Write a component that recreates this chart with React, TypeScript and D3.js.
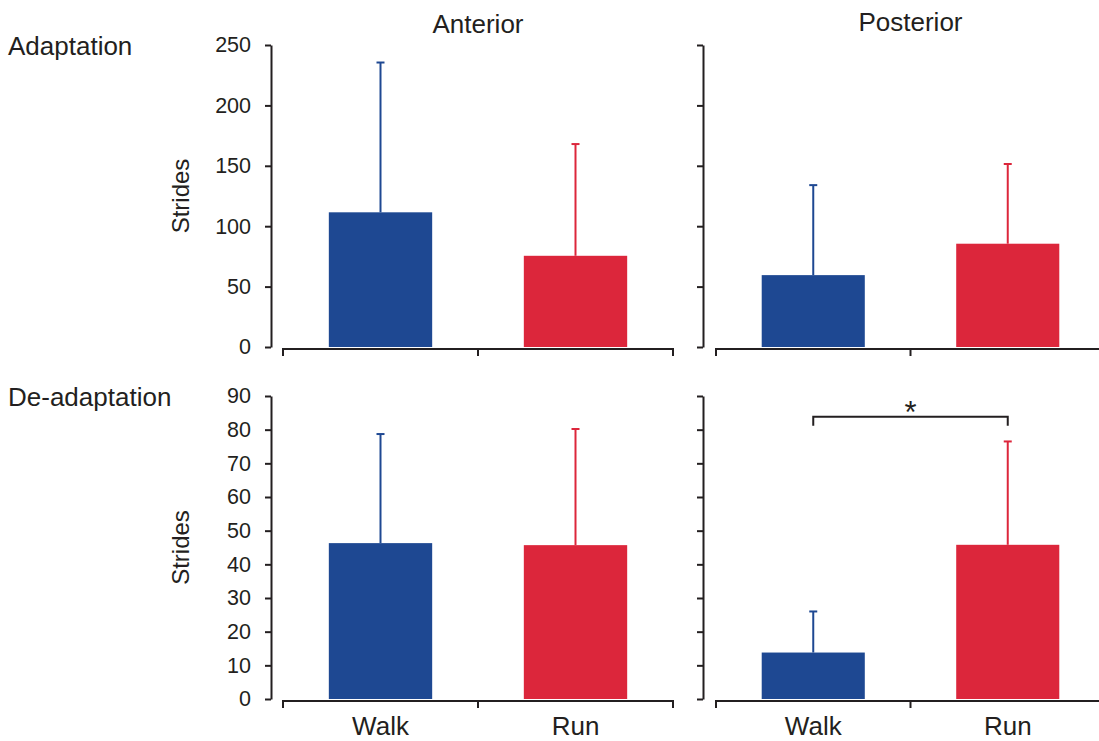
import React, { useEffect, useRef } from "react";
import * as d3 from "d3";

// conditions on the x axis
const categories = ["Walk", "Run"];

// mean strides (bar height) and mean + SD (error bar top)
const adaptAnteriorMean = [111.5, 75.5];
const adaptAnteriorErr = [235.5, 168];
const adaptPosteriorMean = [59.5, 85.5];
const adaptPosteriorErr = [134, 151.5];

const deadaptAnteriorMean = [46.3, 45.7];
const deadaptAnteriorErr = [78.7, 80.2];
const deadaptPosteriorMean = [13.8, 45.8];
const deadaptPosteriorErr = [26, 76.5];

// y axis ticks
const adaptTicks = [0, 50, 100, 150, 200, 250];
const deadaptTicks = [0, 10, 20, 30, 40, 50, 60, 70, 80, 90];

const columnTitles = ["Anterior", "Posterior"];
const rowTitles = ["Adaptation", "De-adaptation"];

// significance bracket (de-adaptation, posterior, walk vs run)
const sigLevel = 83.8;
const sigLabel = "*";

const BLUE = "#1e4892";
const RED = "#dc263b";
const INK = "#231f20";
const FONT = "'Liberation Sans', Arial, Helvetica, sans-serif";

export default function App() {
  const ref = useRef<SVGSVGElement>(null);

  useEffect(() => {
    const svg = d3.select(ref.current);
    svg.selectAll("*").remove();

    const cols = [
      { axisX: 271, x0: 283, x1: 673, labels: true },
      { axisX: 703, x0: 716, x1: 1105, labels: false },
    ];
    const rows = [
      { top: 45, bottom: 347, max: 250, ticks: adaptTicks },
      { top: 396, bottom: 699, max: 90, ticks: deadaptTicks },
    ];
    const panels = [
      { r: 0, c: 0, mean: adaptAnteriorMean, err: adaptAnteriorErr },
      { r: 0, c: 1, mean: adaptPosteriorMean, err: adaptPosteriorErr },
      { r: 1, c: 0, mean: deadaptAnteriorMean, err: deadaptAnteriorErr },
      { r: 1, c: 1, mean: deadaptPosteriorMean, err: deadaptPosteriorErr },
    ];
    const colors = [BLUE, RED];

    panels.forEach((p) => {
      const col = cols[p.c];
      const row = rows[p.r];
      const g = svg.append("g");

      const x = d3.scaleBand<string>()
        .domain(categories)
        .range([col.x0, col.x1])
        .paddingInner(0.47)
        .paddingOuter(0.235);
      const y = d3.scaleLinear().domain([0, row.max]).range([row.bottom, row.top]);

      // bars
      g.selectAll(".bar")
        .data(categories)
        .enter()
        .append("rect")
        .attr("x", (d) => x(d)!)
        .attr("width", x.bandwidth())
        .attr("y", (d, i) => y(p.mean[i]))
        .attr("height", (d, i) => y(0) - y(p.mean[i]))
        .attr("fill", (d, i) => colors[i]);

      // error bars (upper only)
      const eb = g.selectAll(".err").data(categories).enter().append("g");
      eb.append("line")
        .attr("x1", (d) => x(d)! + x.bandwidth() / 2)
        .attr("x2", (d) => x(d)! + x.bandwidth() / 2)
        .attr("y1", (d, i) => y(p.mean[i]))
        .attr("y2", (d, i) => y(p.err[i]))
        .attr("stroke", (d, i) => colors[i])
        .attr("stroke-width", 2);
      eb.append("line")
        .attr("x1", (d) => x(d)! + x.bandwidth() / 2 - 4)
        .attr("x2", (d) => x(d)! + x.bandwidth() / 2 + 4)
        .attr("y1", (d, i) => y(p.err[i]))
        .attr("y2", (d, i) => y(p.err[i]))
        .attr("stroke", (d, i) => colors[i])
        .attr("stroke-width", 2);

      // y axis
      const yAxis = g.append("g")
        .attr("transform", "translate(" + col.axisX + ",0)")
        .call(
          d3.axisLeft(y)
            .tickValues(row.ticks)
            .tickSize(6)
            .tickSizeOuter(0)
            .tickPadding(14)
            .tickFormat((d) => (col.labels ? String(d) : ""))
        );
      yAxis.select(".domain").attr("stroke", INK).attr("stroke-width", 2);
      yAxis.selectAll(".tick line").attr("stroke", INK).attr("stroke-width", 2);
      yAxis.selectAll(".tick text")
        .attr("fill", INK)
        .style("font-family", FONT)
        .style("font-size", "21.5px");

      // x axis: baseline with ticks at the band edges
      const xy = row.bottom + 2;
      g.append("line")
        .attr("x1", col.x0).attr("x2", col.x1)
        .attr("y1", xy).attr("y2", xy)
        .attr("stroke", INK).attr("stroke-width", 2);
      g.selectAll(".xtick")
        .data([col.x0, (col.x0 + col.x1) / 2, col.x1])
        .enter()
        .append("line")
        .attr("x1", (d) => d).attr("x2", (d) => d)
        .attr("y1", xy - 1).attr("y2", xy + 7)
        .attr("stroke", INK).attr("stroke-width", 2);

      if (p.r === 1) {
        g.selectAll(".xlab")
          .data(categories)
          .enter()
          .append("text")
          .attr("x", (d) => x(d)! + x.bandwidth() / 2)
          .attr("y", 735)
          .attr("text-anchor", "middle")
          .attr("fill", INK)
          .style("font-family", FONT)
          .style("font-size", "26px")
          .text((d) => d);
      }

      if (p.c === 0) {
        g.append("text")
          .attr("transform", "translate(189," + (row.top + row.bottom) / 2 + ") rotate(-90)")
          .attr("text-anchor", "middle")
          .attr("fill", INK)
          .style("font-family", FONT)
          .style("font-size", "24px")
          .text("Strides");
      }

      if (p.r === 1 && p.c === 1) {
        const cx0 = x(categories[0])! + x.bandwidth() / 2;
        const cx1 = x(categories[1])! + x.bandwidth() / 2;
        const by = y(sigLevel);
        g.append("path")
          .attr("d", "M" + cx0 + "," + (by + 9) + "V" + by + "H" + cx1 + "V" + (by + 9))
          .attr("fill", "none")
          .attr("stroke", INK)
          .attr("stroke-width", 2);
        g.append("text")
          .attr("x", (cx0 + cx1) / 2)
          .attr("y", by + 6)
          .attr("text-anchor", "middle")
          .attr("fill", INK)
          .style("font-family", FONT)
          .style("font-size", "31px")
          .text(sigLabel);
      }
    });

    // column titles
    svg.selectAll(".ctitle")
      .data(columnTitles)
      .enter()
      .append("text")
      .attr("x", (d, i) => (cols[i].x0 + cols[i].x1) / 2)
      .attr("y", (d, i) => (i === 0 ? 33 : 31))
      .attr("text-anchor", "middle")
      .attr("fill", INK)
      .style("font-family", FONT)
      .style("font-size", "26px")
      .text((d) => d);

    // row titles
    svg.selectAll(".rtitle")
      .data(rowTitles)
      .enter()
      .append("text")
      .attr("x", 8)
      .attr("y", (d, i) => (i === 0 ? 55 : 406))
      .attr("fill", INK)
      .style("font-family", FONT)
      .style("font-size", "26px")
      .text((d) => d);
  }, []);

  return (
    <svg
      ref={ref}
      width={1099}
      height={741}
      style={{ position: "absolute", left: 0, top: 0, background: "#fff" }}
    />
  );
}
